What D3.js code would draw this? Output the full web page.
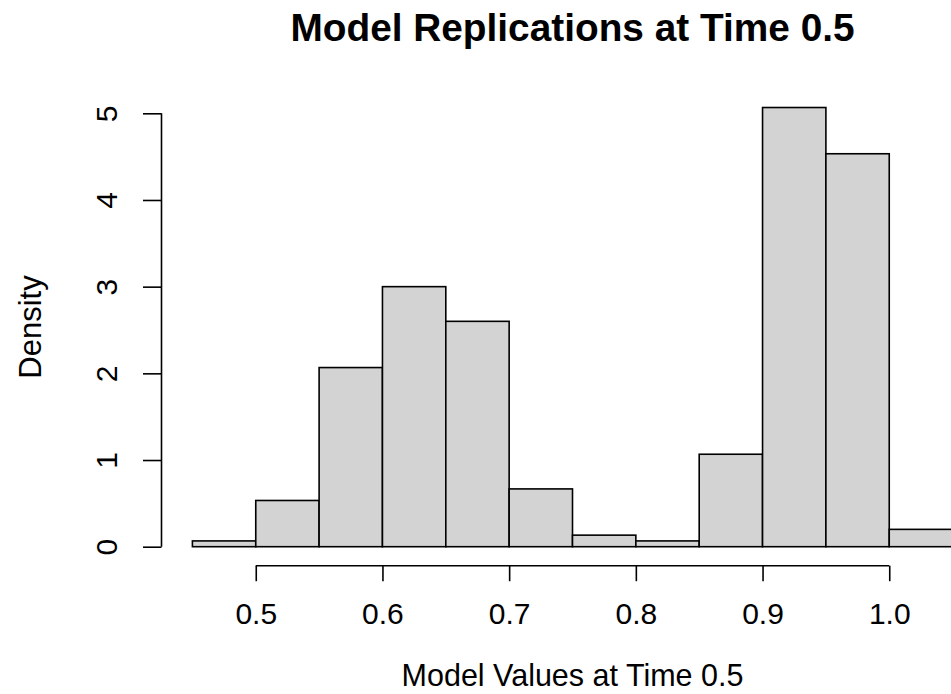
<!DOCTYPE html>
<html>
<head>
<meta charset="utf-8">
<script src="https://cdn.jsdelivr.net/npm/d3@7"></script>
<style>
  html, body { margin: 0; padding: 0; background: #fff; }
  svg { display: block; }
  text { font-family: "Liberation Sans", Arial, sans-serif; fill: #000; }
</style>
</head>
<body>
<svg id="chart" width="951" height="694"></svg>
<script>
// Histogram bins (left edges, width 0.05) and density per bin
const binStarts = [0.45, 0.50, 0.55, 0.60, 0.65, 0.70, 0.75, 0.80, 0.85, 0.90, 0.95, 1.00];
const binWidth = 0.05;
const densities = [0.0667, 0.5333, 2.0667, 3.0, 2.6, 0.6667, 0.1333, 0.0667, 1.0667, 5.0667, 4.5333, 0.2];
const xTicks = [0.5, 0.6, 0.7, 0.8, 0.9, 1.0];
const yTicks = [0, 1, 2, 3, 4, 5];

const titleText = "Model Replications at Time 0.5";
const xLabel = "Model Values at Time 0.5";
const yLabel = "Density";

const svg = d3.select("#chart");

// Plot region (extends slightly past the right edge of the canvas)
const x = d3.scaleLinear().domain([0.426, 1.074]).range([162, 983]);
const y = d3.scaleLinear().domain([0, 5]).range([546.7, 113.3]);

const bins = binStarts.map((s, i) => ({ x0: s, x1: s + binWidth, d: densities[i] }));

// Bars
svg.append("g")
  .selectAll("rect")
  .data(bins)
  .join("rect")
  .attr("x", d => x(d.x0))
  .attr("y", d => y(d.d))
  .attr("width", d => x(d.x1) - x(d.x0))
  .attr("height", d => y(0) - y(d.d))
  .attr("fill", "#d3d3d3")
  .attr("stroke", "#000")
  .attr("stroke-width", 1.6);

// X axis
const xAxis = svg.append("g")
  .attr("transform", "translate(0,565.7)")
  .call(d3.axisBottom(x).tickValues(xTicks).tickFormat(d3.format(".1f")).tickSize(15.5).tickPadding(22).tickSizeOuter(0));
xAxis.select(".domain").attr("d", `M${x(xTicks[0])},0H${x(xTicks[xTicks.length - 1])}`)
  .attr("stroke", "#000").attr("stroke-width", 1.6);
xAxis.selectAll(".tick line").attr("stroke", "#000").attr("stroke-width", 1.6);
xAxis.selectAll(".tick text").attr("font-size", 30).attr("font-family", "Liberation Sans, Arial, sans-serif");

// Y axis
const yAxis = svg.append("g")
  .attr("transform", "translate(161.5,0)")
  .call(d3.axisLeft(y).tickValues(yTicks).tickFormat(d3.format("d")).tickSize(18.5).tickSizeOuter(0));
yAxis.select(".domain").attr("d", `M0,${y(yTicks[0])}V${y(yTicks[yTicks.length - 1])}`)
  .attr("stroke", "#000").attr("stroke-width", 1.6);
yAxis.selectAll(".tick line").attr("stroke", "#000").attr("stroke-width", 1.6);
yAxis.selectAll(".tick text")
  .attr("font-size", 30)
  .attr("font-family", "Liberation Sans, Arial, sans-serif")
  .attr("x", null).attr("dy", null)
  .attr("text-anchor", "middle")
  .attr("transform", "translate(-45,0) rotate(-90)");

// Title
svg.append("text")
  .attr("x", 572.5).attr("y", 41)
  .attr("text-anchor", "middle")
  .attr("font-size", 38.8)
  .attr("font-weight", "bold")
  .text(titleText);

// X label
svg.append("text")
  .attr("x", 572.5).attr("y", 686)
  .attr("text-anchor", "middle")
  .attr("font-size", 30.5)
  .text(xLabel);

// Y label
svg.append("text")
  .attr("transform", "translate(41,327) rotate(-90)")
  .attr("text-anchor", "middle")
  .attr("font-size", 31)
  .text(yLabel);
</script>
</body>
</html>
